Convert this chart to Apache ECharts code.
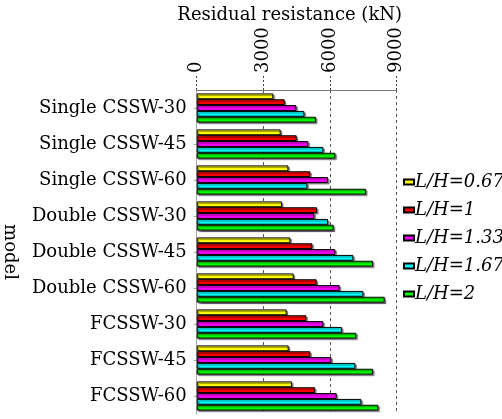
<!DOCTYPE html>
<html>
<head>
<meta charset="utf-8">
<script src="https://cdn.jsdelivr.net/npm/echarts@6/dist/echarts.min.js"></script>
<style>
  html, body { margin: 0; padding: 0; background: #fff; }
  #chart { width: 502px; height: 419px; }
</style>
</head>
<body>
<div id="chart"></div>
<script>
// Residual resistance (kN) of each wall model for five aspect ratios
const models = ['Single CSSW-30', 'Single CSSW-45', 'Single CSSW-60',
                'Double CSSW-30', 'Double CSSW-45', 'Double CSSW-60',
                'FCSSW-30', 'FCSSW-45', 'FCSSW-60'];
const seriesNames = ['L/H=0.67', 'L/H=1', 'L/H=1.33', 'L/H=1.67', 'L/H=2'];
const lh067 = [3450, 3780, 4125, 3840, 4215, 4365, 4050, 4140, 4290];
const lh1   = [3960, 4500, 5115, 5415, 5205, 5400, 4935, 5115, 5325];
const lh133 = [4485, 5025, 5910, 5295, 6240, 6435, 5700, 6060, 6300];
const lh167 = [4845, 5700, 4980, 5910, 7050, 7500, 6540, 7140, 7410];
const lh2   = [5370, 6240, 7620, 6165, 7935, 8460, 7185, 7935, 8175];
const xTicks = [0, 3000, 6000, 9000];

const seriesData = [lh067, lh1, lh133, lh167, lh2];
const colors = ['#FFFF00', '#FF0000', '#FF00FF', '#00FFFF', '#00FF00'];
const serif = 'DejaVu Serif';

const chart = echarts.init(document.getElementById('chart'));
chart.setOption({
  animation: false,
  grid: { left: 196.7, right: 105.3, top: 90, bottom: 5, containLabel: false, outerBoundsMode: 'none' },
  legend: {
    orient: 'vertical',
    left: 398,
    top: 168,
    itemWidth: 10,
    itemHeight: 5,
    itemGap: 10,
    icon: 'rect',
    textStyle: { fontFamily: serif, fontStyle: 'italic', fontSize: 18, color: '#000', padding: [0, 0, 0, -4] },
    data: seriesNames
  },
  xAxis: {
    type: 'value',
    position: 'top',
    min: xTicks[0],
    max: xTicks[xTicks.length - 1],
    interval: 3000,
    name: 'Residual resistance (kN)',
    nameLocation: 'middle',
    nameGap: 66,
    nameMoveOverlap: false,
    nameTextStyle: { fontFamily: serif, fontSize: 18, color: '#000', padding: [0, 14, 0, 0] },
    axisLine: { show: true, lineStyle: { color: '#777', width: 1 } },
    axisTick: { show: true, length: 16, lineStyle: { color: '#444', type: [2, 2] } },
    axisLabel: { rotate: -90, margin: 17, fontFamily: serif, fontSize: 18, color: '#000',
                 formatter: v => String(v) },
    splitLine: { show: true, lineStyle: { color: '#555', type: [3, 3], width: 1 } }
  },
  yAxis: {
    type: 'category',
    inverse: true,
    data: models,
    name: 'model',
    nameLocation: 'middle',
    nameGap: 178,
    nameMoveOverlap: false,
    nameRotate: -90,
    nameTextStyle: { fontFamily: serif, fontSize: 18, color: '#000' },
    axisLine: { show: true, lineStyle: { color: '#aaa', width: 1 } },
    axisTick: { show: true, alignWithLabel: true, length: 3, lineStyle: { color: '#aaa' } },
    axisLabel: { margin: 10, fontFamily: serif, fontSize: 18, color: '#000' }
  },
  series: seriesData.map((d, i) => ({
    name: seriesNames[i],
    type: 'bar',
    data: d,
    barGap: '0%',
    barCategoryGap: '19%',
    itemStyle: {
      color: colors[i],
      borderColor: '#000',
      borderWidth: 1,
      shadowColor: 'rgba(0,0,0,0.45)',
      shadowOffsetX: 1.5,
      shadowOffsetY: 1.5,
      shadowBlur: 1
    }
  }))
});
</script>
</body>
</html>
